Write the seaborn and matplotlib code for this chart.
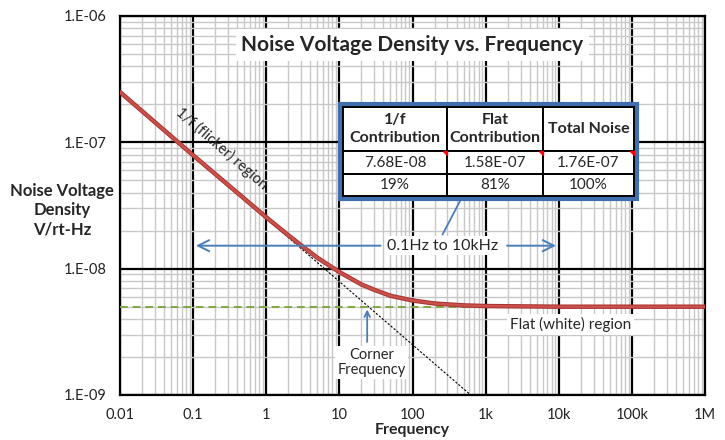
import numpy as np
import matplotlib
matplotlib.use('Agg')
import matplotlib.pyplot as plt
import matplotlib.ticker as mticker
from matplotlib.patches import Rectangle, Polygon
import pandas as pd
import seaborn as sns

# values
freq = [0.01, 0.1, 1, 2, 3, 5, 10, 20, 30, 50, 100, 200, 500, 1e3, 1e4, 1e5, 1e6]
noise = [2.5e-7, 7.9e-8, 2.55e-8, 1.84e-8, 1.53e-8, 1.22e-8, 9.4e-9, 7.5e-9, 6.8e-9,
         6.1e-9, 5.6e-9, 5.3e-9, 5.12e-9, 5.06e-9, 5.0e-9, 5.0e-9, 5.0e-9]
flicker_f = [0.01, 625]
flicker_v = [2.5e-7, 1.0e-9]
flat_level = 5.0e-9

x_ticks = [0.01, 0.1, 1, 10, 100, 1e3, 1e4, 1e5, 1e6]
x_labels = ['0.01', '0.1', '1', '10', '100', '1k', '10k', '100k', '1M']
y_ticks = [1e-9, 1e-8, 1e-7, 1e-6]
y_labels = ['1.E-09', '1.E-08', '1.E-07', '1.E-06']

table_header = ['1/f\nContribution', 'Flat\nContribution', 'Total Noise']
table_values = ['7.68E-08', '1.58E-07', '1.76E-07']
table_pct = ['19%', '81%', '100%']

band = [0.1, 1e4]
band_y = 1.52e-8

sns.set_style('white')
plt.rcParams['font.family'] = ['Lato', 'DejaVu Sans']

fig = plt.figure(figsize=(7.25, 4.4), dpi=100)
ax = fig.add_axes([120 / 725, 1 - 395 / 440, 585 / 725, 379 / 440])

df = pd.DataFrame({'f': freq, 'v': noise})
ax.set_xscale('log')
ax.set_yscale('log')

ax.plot(flicker_f, flicker_v, ls=(0, (2, 1.5)), color='black', lw=0.8, zorder=3)
ax.axhline(flat_level, color='#7fa843', ls=(0, (4, 2.5)), lw=1.4, zorder=3)
sns.lineplot(data=df, x='f', y='v', ax=ax, color='#a8322e', lw=3.2, zorder=4)
sns.lineplot(data=df, x='f', y='v', ax=ax, color='#c9504b', lw=1.8, zorder=5)

ax.set_xlim(0.01, 1e6)
ax.set_ylim(1e-9, 1e-6)
ax.xaxis.set_major_locator(mticker.FixedLocator(x_ticks))
ax.xaxis.set_major_formatter(mticker.FixedFormatter(x_labels))
ax.yaxis.set_major_locator(mticker.FixedLocator(y_ticks))
ax.yaxis.set_major_formatter(mticker.FixedFormatter(y_labels))
ax.xaxis.set_minor_locator(mticker.LogLocator(base=10, subs=np.arange(2, 10), numticks=20))
ax.yaxis.set_minor_locator(mticker.LogLocator(base=10, subs=np.arange(2, 10), numticks=20))
ax.xaxis.set_minor_formatter(mticker.NullFormatter())
ax.yaxis.set_minor_formatter(mticker.NullFormatter())
ax.grid(which='minor', color='#c8c8c8', lw=1.0, zorder=0)
ax.grid(which='major', color='black', lw=1.6, zorder=1)
ax.set_axisbelow(True)
for s in ax.spines.values():
    s.set_color('black')
    s.set_linewidth(1.6)
ax.tick_params(axis='x', which='both', length=0, labelsize=10.5, pad=9)
ax.tick_params(axis='y', which='major', length=6, width=1.5, labelsize=10.5)
ax.tick_params(axis='y', which='minor', length=0)
for lab in ax.get_xticklabels() + ax.get_yticklabels():
    lab.set_color('#222222')

ax.set_xlabel('Frequency', fontsize=11.5, fontweight='bold', labelpad=1)
ax.set_ylabel('')
fig.text(62 / 725, 1 - 210 / 440, 'Noise Voltage\nDensity\nV/rt-Hz', ha='center', va='center',
         fontsize=12, fontweight='bold', linespacing=1.25)

ax.text(0.5, 1 - (45 - 16) / 379, 'Noise Voltage Density vs. Frequency', transform=ax.transAxes,
        ha='center', va='center', fontsize=15, fontweight='bold', zorder=6,
        bbox=dict(facecolor='white', edgecolor='none', pad=4))

ax.text(0.25, 9.0e-8, '1/f (flicker) region', rotation=-41, rotation_mode='anchor',
        ha='center', va='center', fontsize=10.5, zorder=6)

ax.text(1.45e4, 3.6e-9, 'Flat (white) region', ha='center', va='center', fontsize=11, zorder=6,
        bbox=dict(facecolor='white', edgecolor='none', pad=2))

ax.text(27.5, 1.82e-9, 'Corner\nFrequency', ha='center', va='center', fontsize=10.5, zorder=6,
        linespacing=1.1, bbox=dict(facecolor='white', edgecolor='none', pad=1.5))
ax.annotate('', xy=(24, flat_level), xytext=(24, 2.5e-9), zorder=6,
            arrowprops=dict(arrowstyle='->', color='#4a7ebb', lw=1.3))

# band arrows and label
ax.annotate('', xy=(band[0], band_y), xytext=(40, band_y), zorder=6,
            arrowprops=dict(arrowstyle='->,head_length=0.8,head_width=0.4', color='#4a7ebb', lw=1.4))
ax.annotate('', xy=(band[1], band_y), xytext=(1.8e3, band_y), zorder=6,
            arrowprops=dict(arrowstyle='->,head_length=0.8,head_width=0.4', color='#4a7ebb', lw=1.4))
ax.text(260, band_y, '0.1Hz to 10kHz', ha='center', va='center', fontsize=11.5, zorder=7,
        bbox=dict(facecolor='white', edgecolor='none', pad=2))
ax.plot([257, 458], [1.86e-8, 3.53e-8], color='#4a7ebb', lw=1.3, zorder=6)

# table
def ax_x(px):
    return (px - 120) / 585


def ax_y(py):
    return 1 - (py - 16) / 379


col_px = [343, 447, 543, 634]
row_px = [107, 151, 174, 196]
rows = [table_header, table_values, table_pct]
ax.add_patch(Rectangle((ax_x(340), ax_y(199)), ax_x(637) - ax_x(340), ax_y(104) - ax_y(199),
                       transform=ax.transAxes, facecolor='white', edgecolor='#3f6fae', lw=3, zorder=8))
for r in range(3):
    for c in range(3):
        x0, x1 = ax_x(col_px[c]), ax_x(col_px[c + 1])
        y0, y1 = ax_y(row_px[r + 1]), ax_y(row_px[r])
        ax.add_patch(Rectangle((x0, y0), x1 - x0, y1 - y0, transform=ax.transAxes,
                               facecolor='white', edgecolor='black', lw=1.4, zorder=9))
        ax.text((x0 + x1) / 2, (y0 + y1) / 2, rows[r][c], transform=ax.transAxes,
                ha='center', va='center', fontsize=11.5 if r == 0 else 11,
                fontweight='bold' if r == 0 else 'normal', linespacing=1.3, zorder=10)
        if r == 1:
            ax.add_patch(Polygon([(x1 - 0.007, y1), (x1, y1), (x1, y1 - 0.011)], closed=True,
                                 transform=ax.transAxes, color='red', zorder=10))

fig.savefig('out.png', dpi=100)
